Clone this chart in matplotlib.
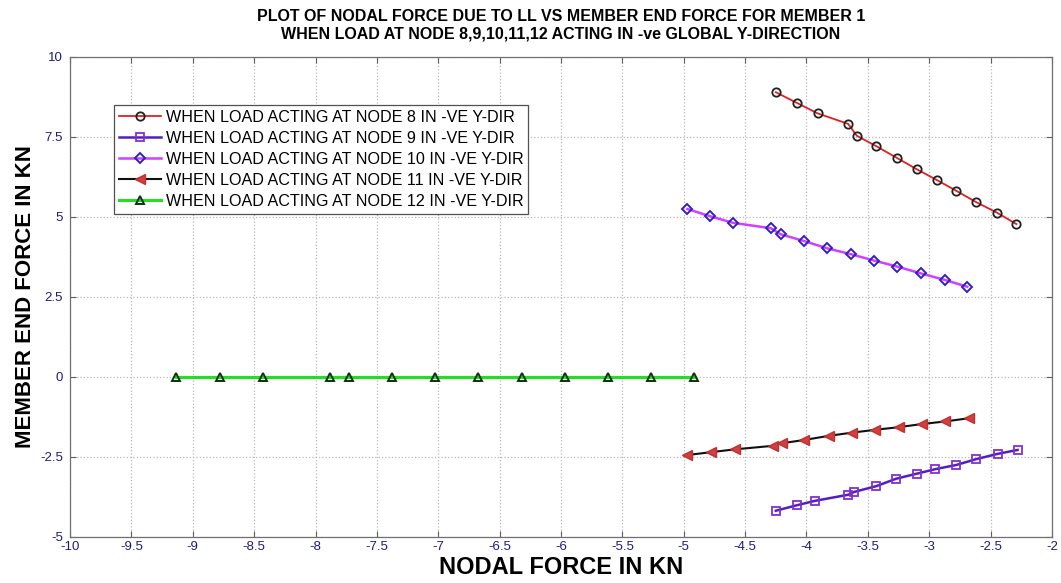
import numpy as np
import matplotlib
matplotlib.use("Agg")
import matplotlib.pyplot as plt

# ---- data ----
x_node8 = [-4.25, -4.08, -3.91, -3.66, -3.59, -3.43, -3.26, -3.10, -2.94, -2.78, -2.62, -2.45, -2.29]
y_node8 = [8.89, 8.56, 8.23, 7.90, 7.53, 7.20, 6.83, 6.48, 6.15, 5.81, 5.46, 5.13, 4.77]

x_node9 = [-4.25, -4.08, -3.93, -3.66, -3.61, -3.43, -3.27, -3.10, -2.95, -2.78, -2.62, -2.44, -2.28]
y_node9 = [-4.19, -4.02, -3.88, -3.69, -3.60, -3.42, -3.19, -3.03, -2.89, -2.76, -2.58, -2.41, -2.29]

x_node10 = [-4.97, -4.79, -4.60, -4.29, -4.21, -4.02, -3.83, -3.64, -3.45, -3.26, -3.07, -2.87, -2.69]
y_node10 = [5.24, 5.02, 4.81, 4.64, 4.45, 4.24, 4.01, 3.83, 3.63, 3.44, 3.23, 3.02, 2.81]

x_node11 = [-4.97, -4.78, -4.58, -4.27, -4.20, -4.02, -3.82, -3.63, -3.44, -3.25, -3.06, -2.87, -2.68]
y_node11 = [-2.45, -2.36, -2.27, -2.16, -2.08, -1.98, -1.85, -1.75, -1.66, -1.58, -1.48, -1.40, -1.30]

x_node12 = [-9.14, -8.78, -8.43, -7.88, -7.73, -7.38, -7.03, -6.68, -6.32, -5.97, -5.62, -5.27, -4.92]
y_node12 = [0, 0, 0, 0, 0, 0, 0, 0, 0, 0, 0, 0, 0]

labels = ["WHEN LOAD ACTING AT NODE 8 IN -VE Y-DIR",
          "WHEN LOAD ACTING AT NODE 9 IN -VE Y-DIR",
          "WHEN LOAD ACTING AT NODE 10 IN -VE Y-DIR",
          "WHEN LOAD ACTING AT NODE 11 IN -VE Y-DIR",
          "WHEN LOAD ACTING AT NODE 12 IN -VE Y-DIR"]

x_ticks = np.arange(-10, -1.99, 0.5)
y_ticks = [-5, -2.5, 0, 2.5, 5, 7.5, 10]
x_ticklabels = ["-10", "-9.5", "-9", "-8.5", "-8", "-7.5", "-7", "-6.5", "-6", "-5.5",
                "-5", "-4.5", "-4", "-3.5", "-3", "-2.5", "-2"]
y_ticklabels = ["-5", "-2.5", "0", "2.5", "5", "7.5", "10"]

plt.rcParams['font.family'] = ['Liberation Sans', 'DejaVu Sans']
plt.rcParams['axes.unicode_minus'] = False

fig = plt.figure(figsize=(10.61, 5.83), dpi=100)
ax = fig.add_axes([0.066, 0.0795, 0.9255, 0.8232])

ax.plot(x_node8, y_node8, color='#e02020', lw=1.3, marker='o', ms=6,
        mfc='none', mec='#202020', mew=1.3, label=labels[0])
ax.plot(x_node9, y_node9, color='#5020c0', lw=1.8, marker='s', ms=6,
        mfc='none', mec='#8030d0', mew=1.3, label=labels[1])
ax.plot(x_node10, y_node10, color='#d040ff', lw=1.8, marker='D', ms=5,
        mfc='none', mec='#3020c0', mew=1.4, label=labels[2])
ax.plot(x_node11, y_node11, color='#101010', lw=1.5, marker='<', ms=6.5,
        mfc='#d04040', mec='#c03030', mew=1.0, label=labels[3])
ax.plot(x_node12, y_node12, color='#20e020', lw=2.2, marker='^', ms=6,
        mfc='none', mec='#103010', mew=1.4, label=labels[4])

ax.set_xlim(-10, -2)
ax.set_ylim(-5, 10)
ax.set_xticks(x_ticks)
ax.set_xticklabels(x_ticklabels)
ax.set_yticks(y_ticks)
ax.set_yticklabels(y_ticklabels)
ax.tick_params(direction='in', top=True, right=True, length=4, width=0.8,
               color='#606060', labelsize=9.5, labelcolor='#1c1c80', pad=3)
ax.tick_params(axis='y', pad=5)
ax.grid(True, color='#b8b8b8', ls=':', lw=0.9)
for s in ax.spines.values():
    s.set_color('#707070')
    s.set_linewidth(0.9)

ax.set_xlabel("NODAL FORCE IN KN", fontsize=17, fontweight='bold', labelpad=2)
ax.set_ylabel("MEMBER END FORCE IN KN", fontsize=16, fontweight='bold', labelpad=3)
ax.set_title("PLOT OF NODAL FORCE DUE TO LL VS MEMBER END FORCE FOR MEMBER 1\n"
             "WHEN LOAD AT NODE 8,9,10,11,12 ACTING IN -ve GLOBAL Y-DIRECTION",
             fontsize=11.5, fontweight='bold', linespacing=1.25, pad=13)

leg = ax.legend(loc='upper left', bbox_to_anchor=(0.045, 0.9), fontsize=11.6,
                frameon=True, fancybox=False, edgecolor='#505050', framealpha=1,
                handlelength=2.6, handletextpad=0.3, borderpad=0.3,
                labelspacing=0.38, borderaxespad=0)
leg.get_frame().set_linewidth(0.9)

fig.savefig("out.png", dpi=100)
